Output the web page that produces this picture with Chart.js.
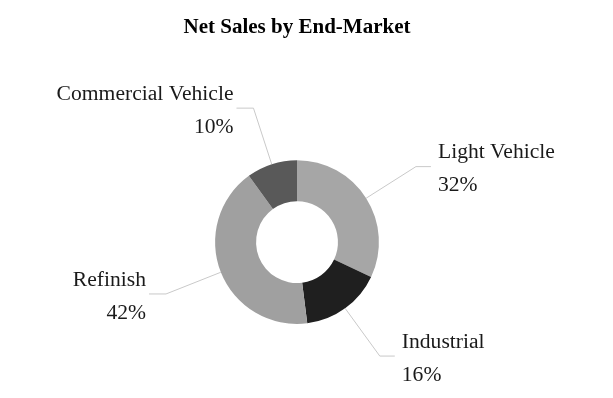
<!DOCTYPE html>
<html>
<head>
<meta charset="utf-8">
<script src="https://cdn.jsdelivr.net/npm/chart.js@4"></script>
<style>
  html, body { margin: 0; padding: 0; background: #fff; }
  #wrap { width: 613px; height: 398px; }
</style>
</head>
<body>
<div id="wrap"><canvas id="chart"></canvas></div>
<script>
const markets = ['Light Vehicle', 'Industrial', 'Refinish', 'Commercial Vehicle']
const shares = [32, 16, 42, 10]
const sliceColors = ['#a6a6a6', '#1f1f1f', '#a0a0a0', '#595959']

const labelFont = '21.6px "Liberation Serif", "Times New Roman", serif'

// leader lines + two-line labels outside the ring
const calloutPlugin = {
  id: 'callouts',
  afterDatasetsDraw (chart) {
    const ctx = chart.ctx
    const arcs = chart.getDatasetMeta(0).data
    ctx.save()
    arcs.forEach((arc, i) => {
      const p = arc.getProps(['x', 'y', 'startAngle', 'endAngle', 'outerRadius'], true)
      const mid = (p.startAngle + p.endAngle) / 2
      const cos = Math.cos(mid)
      const sin = Math.sin(mid)
      const x0 = p.x + cos * p.outerRadius
      const y0 = p.y + sin * p.outerRadius
      const right = cos >= 0
      const er = p.outerRadius * 1.72
      const ex = p.x + cos * er
      const ey = p.y + sin * er
      const hx = right ? ex + 15 : ex - 17

      ctx.strokeStyle = '#c9c9c9'
      ctx.lineWidth = 1
      ctx.beginPath()
      ctx.moveTo(x0, y0)
      ctx.lineTo(ex, ey)
      ctx.lineTo(hx, ey)
      ctx.stroke()

      ctx.fillStyle = '#1a1a1a'
      ctx.font = labelFont
      ctx.textBaseline = 'middle'
      ctx.textAlign = right ? 'left' : 'right'
      const tx = right ? hx + 7 : hx - 3
      ctx.fillText(markets[i], tx, ey - 14)
      ctx.fillText(shares[i] + '%', tx, ey + 19)
    })
    ctx.restore()
  }
}

new Chart(document.getElementById('chart').getContext('2d'), {
  type: 'doughnut',
  data: {
    labels: markets,
    datasets: [{
      data: shares,
      backgroundColor: sliceColors,
      borderWidth: 0
    }]
  },
  options: {
    responsive: true,
    maintainAspectRatio: false,
    animation: false,
    cutout: '50%',
    layout: {
      padding: { left: 147, right: 166, top: 0, bottom: 74 }
    },
    plugins: {
      legend: { display: false },
      tooltip: { enabled: false },
      title: {
        display: true,
        text: 'Net Sales by End-Market',
        color: '#000',
        font: { family: '"Liberation Serif", "Times New Roman", serif', size: 21, weight: 'bold' },
        padding: { top: 15, bottom: 120 }
      }
    }
  },
  plugins: [calloutPlugin]
})
</script>
</body>
</html>
